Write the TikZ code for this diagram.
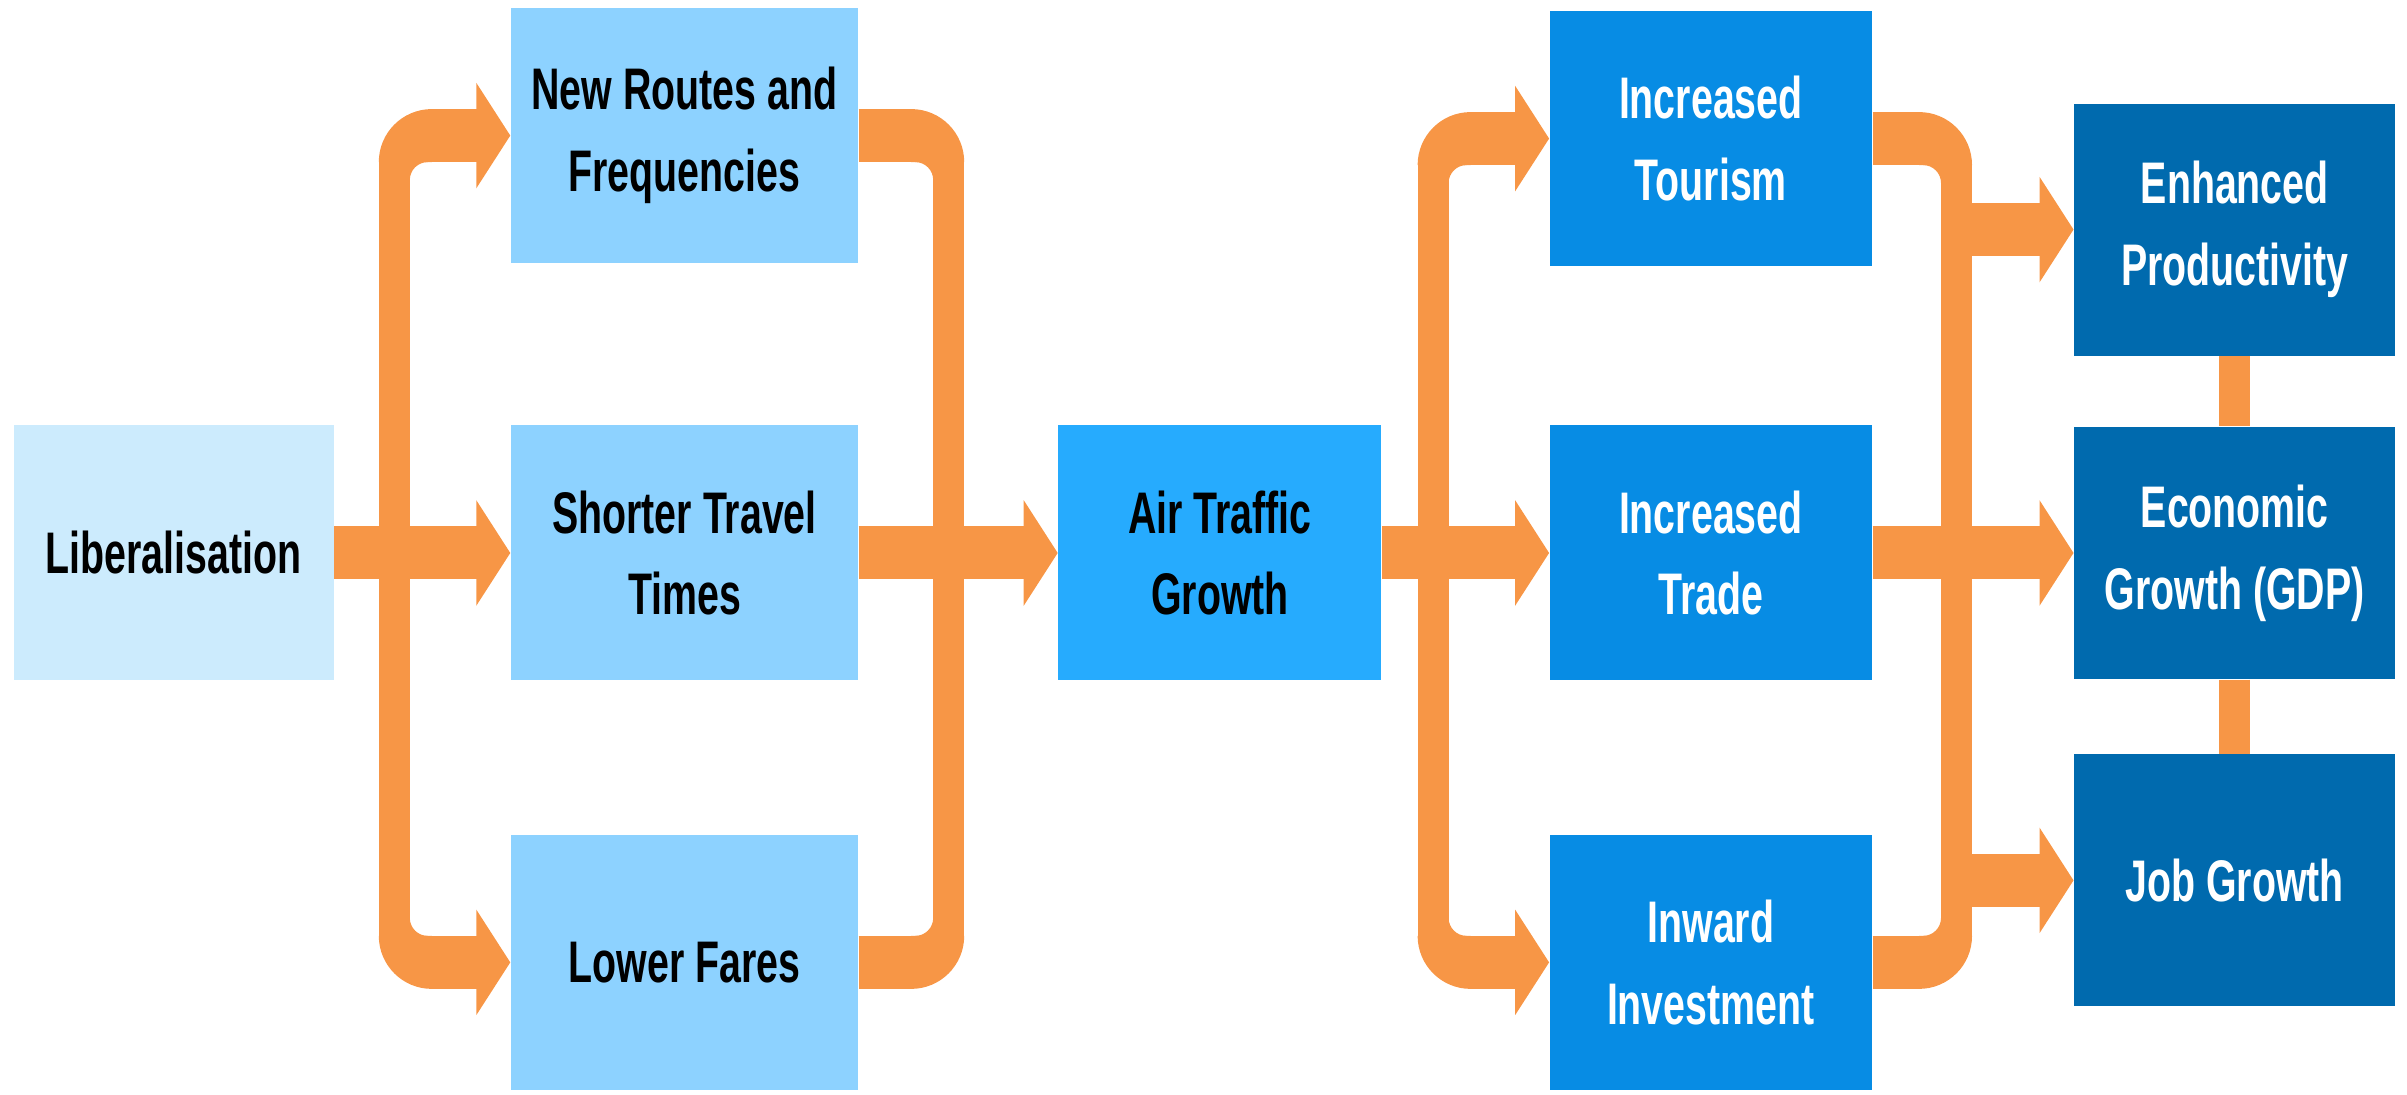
\documentclass[tikz,border=0pt]{standalone}
\usepackage{fontspec}
\setmainfont{Liberation Sans}[FakeStretch=0.67]
\usetikzlibrary{positioning, arrows.meta}

\definecolor{arroworange}{HTML}{F79646}
\definecolor{paleblue}{HTML}{CCEBFD}
\definecolor{lightblue}{HTML}{8DD2FF}
\definecolor{skyblue}{HTML}{26ABFE}
\definecolor{midblue}{HTML}{078CE4}
\definecolor{deepblue}{HTML}{006AAE}

% rounded bend where a branch leaves or joins a bar
\tikzset{
  elbow/.pic={
    \fill[arroworange] (0,0) -- (-5.3mm,0) arc[start angle=180, end angle=90, radius=5.3mm] -- cycle;
    \fill[arroworange] (-2.2mm,0) -- (-2.2mm,-1.8mm) arc[start angle=180, end angle=90, radius=1.8mm] -- cycle;
  }
}

\begin{document}
\begin{tikzpicture}[
  box/.style={rectangle, draw=none, inner sep=0pt, minimum height=2.55cm, align=center, font=\bfseries\fontsize{16.7}{23.3}\selectfont},
  flow/.style={draw=arroworange, line width=5.3mm, -{Triangle[length=3.4mm, width=10.4mm]}},
  band/.style={draw=arroworange, line width=5.3mm},
  bar/.style={draw=arroworange, line width=3.1mm},
]

\useasboundingbox (0,0) rectangle (24.07,10.95);

% Shorter Travel Times
\node (shorter) [box, fill=lightblue, minimum width=3.47cm] at (6.845,5.42) {Shorter Travel\\Times};

% New Routes and Frequencies
\node (routes) [box, fill=lightblue, minimum width=3.47cm, above=1.61cm of shorter] {New Routes and\\Frequencies};

% Lower Fares
\node (fares) [box, fill=lightblue, minimum width=3.47cm, below=1.53cm of shorter] {Lower Fares};

% Liberalisation left of Shorter Travel Times
\node (liberalisation) [box, fill=paleblue, minimum width=3.2cm, left=1.76cm of shorter] {Liberalisation};

% Air Traffic Growth
\node (traffic) [box, fill=skyblue, minimum width=3.23cm, right=1.99cm of shorter] {Air Traffic\\Growth};

% Increased Trade
\node (trade) [box, fill=midblue, text=white, minimum width=3.22cm, right=1.67cm of traffic] {Increased\\Trade};

% Increased Tourism
\node (tourism) [box, fill=midblue, text=white, minimum width=3.22cm, above=1.58cm of trade] {Increased\\Tourism};

% Inward Investment
\node (investment) [box, fill=midblue, text=white, minimum width=3.22cm, below=1.53cm of trade] {Inward\\Investment};

% Economic Growth right of Increased Trade
\node (economic) [box, fill=deepblue, text=white, minimum width=3.21cm, minimum height=2.52cm, right=2.01cm of trade] {Economic\\Growth (GDP)};

% Enhanced Productivity
\node (enhanced) [box, fill=deepblue, text=white, minimum width=3.21cm, minimum height=2.52cm, above=0.7cm of economic] {Enhanced\\Productivity};

% Job Growth
\node (jobs) [box, fill=deepblue, text=white, minimum width=3.21cm, minimum height=2.52cm, below=0.74cm of economic] {Job Growth};

% Where the arrows split and join
\coordinate (fork1) at ([xshift=6mm]liberalisation.east);
\coordinate (merge1) at ([xshift=9mm]shorter.east);
\coordinate (fork2) at ([xshift=5.1mm]traffic.east);
\coordinate (merge2) at ([xshift=8.4mm]trade.east);

% Arrows
\draw[bar] ([yshift=-2.6mm]fork1 |- routes.west) -- ([yshift=2.6mm]fork1 |- fares.west);
\pic at ([xshift=3.75mm, yshift=-2.65mm]fork1 |- routes.west) {elbow};
\pic[yscale=-1] at ([xshift=3.75mm, yshift=2.65mm]fork1 |- fares.west) {elbow};
\draw[flow] (liberalisation) -- (shorter);
\draw[flow] ([xshift=3.6mm]fork1 |- routes.west) -- (routes);
\draw[flow] ([xshift=3.6mm]fork1 |- fares.west) -- (fares);

\draw[bar] ([yshift=-2.6mm]merge1 |- routes.east) -- ([yshift=2.6mm]merge1 |- fares.east);
\pic[xscale=-1] at ([xshift=-3.75mm, yshift=-2.65mm]merge1 |- routes.east) {elbow};
\pic[xscale=-1, yscale=-1] at ([xshift=-3.75mm, yshift=2.65mm]merge1 |- fares.east) {elbow};
\draw[band] (routes) -- ([xshift=-3.6mm]merge1 |- routes.east);
\draw[band] (fares) -- ([xshift=-3.6mm]merge1 |- fares.east);
\draw[flow] (shorter) -- (traffic);

\draw[bar] ([yshift=-2.6mm]fork2 |- tourism.west) -- ([yshift=2.6mm]fork2 |- investment.west);
\pic at ([xshift=3.75mm, yshift=-2.65mm]fork2 |- tourism.west) {elbow};
\pic[yscale=-1] at ([xshift=3.75mm, yshift=2.65mm]fork2 |- investment.west) {elbow};
\draw[flow] (traffic) -- (trade);
\draw[flow] ([xshift=3.6mm]fork2 |- tourism.west) -- (tourism);
\draw[flow] ([xshift=3.6mm]fork2 |- investment.west) -- (investment);

\draw[bar] ([yshift=-2.6mm]merge2 |- tourism.east) -- ([yshift=2.6mm]merge2 |- investment.east);
\pic[xscale=-1] at ([xshift=-3.75mm, yshift=-2.65mm]merge2 |- tourism.east) {elbow};
\pic[xscale=-1, yscale=-1] at ([xshift=-3.75mm, yshift=2.65mm]merge2 |- investment.east) {elbow};
\draw[band] (tourism) -- ([xshift=-3.6mm]merge2 |- tourism.east);
\draw[band] (investment) -- ([xshift=-3.6mm]merge2 |- investment.east);
\draw[flow] (trade) -- (economic);
\draw[flow] (merge2 |- enhanced.west) -- (enhanced);
\draw[flow] (merge2 |- jobs.west) -- (jobs);

\draw[bar] (enhanced) -- (economic);
\draw[bar] (economic) -- (jobs);

\end{tikzpicture}
\end{document}
